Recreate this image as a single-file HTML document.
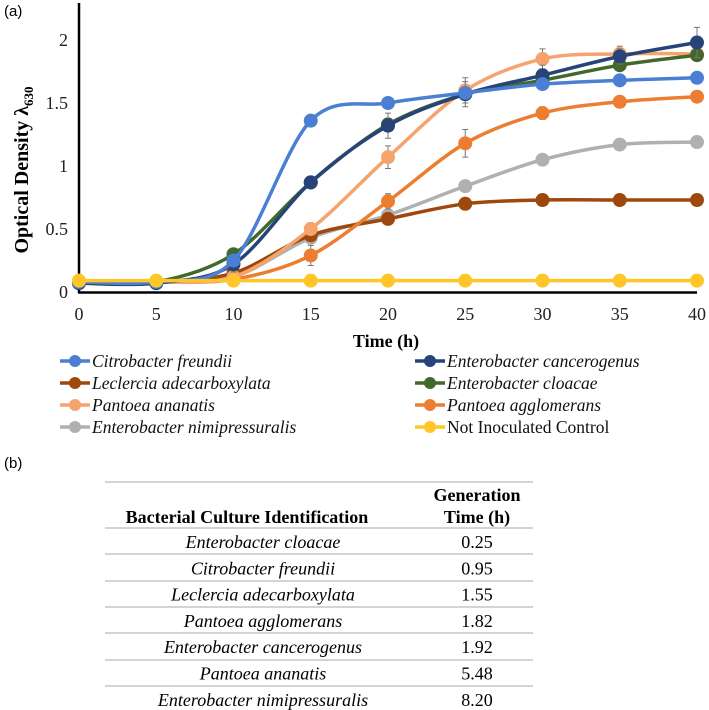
<!DOCTYPE html>
<html><head><meta charset="utf-8"><style>
body{margin:0;background:#fff;width:709px;height:710px;overflow:hidden;font-family:"Liberation Serif",serif;}
svg{position:absolute;left:0;top:0}
</style></head><body>
<svg id="chart" width="709" height="710"></svg>
<script>
const times=[0,5,10,15,20,25,30,35,40];
const seriesNames=["Citrobacter freundii","Enterobacter cancerogenus","Leclercia adecarboxylata","Enterobacter cloacae","Pantoea ananatis","Pantoea agglomerans","Enterobacter nimipressuralis","Not Inoculated Control"];
const seriesColors=["#4a7fd4","#264478","#9e480e","#43682b","#f4a46c","#ed7d31","#b0b0b0","#ffc62a"];
const citro=[0.08,0.08,0.25,1.36,1.50,1.58,1.65,1.68,1.70];
const canc=[0.07,0.07,0.22,0.87,1.32,1.57,1.72,1.87,1.98];
const lecl=[0.08,0.08,0.15,0.45,0.58,0.70,0.73,0.73,0.73];
const cloac=[0.08,0.08,0.30,0.87,1.33,1.57,1.68,1.80,1.88];
const anan=[0.08,0.08,0.12,0.50,1.07,1.60,1.85,1.89,1.89];
const agglo=[0.08,0.08,0.10,0.29,0.72,1.18,1.42,1.51,1.55];
const nimi=[0.08,0.08,0.12,0.43,0.61,0.84,1.05,1.17,1.19];
const ctrl=[0.09,0.09,0.09,0.09,0.09,0.09,0.09,0.09,0.09];
const errAnan=[0,0,0,0.05,0.09,0.1,0.08,0.06,0.05];
const errAgglo=[0,0,0,0.08,0.06,0.11,0.05,0.03,0.02];
const errCanc=[0,0,0.06,0.04,0.1,0.1,0.08,0.06,0.12];
const yTicks=[0,0.5,1,1.5,2];
const xTicks=[0,5,10,15,20,25,30,35,40];
const genNames=["Enterobacter cloacae","Citrobacter freundii","Leclercia adecarboxylata","Pantoea agglomerans","Enterobacter cancerogenus","Pantoea ananatis","Enterobacter nimipressuralis"];
const genTimes=["0.25","0.95","1.55","1.82","1.92","5.48","8.20"];
const allSeries=[citro,canc,lecl,cloac,anan,agglo,nimi,ctrl];
const drawOrder=[6,2,5,4,3,1,0,7];

const NS="http://www.w3.org/2000/svg";
const svg=document.getElementById('chart');
const X=t=>79+t*(697-79)/40;
const Y=v=>292-v*126;
function el(tag,attrs,parent){const e=document.createElementNS(NS,tag);for(const k in attrs)e.setAttribute(k,attrs[k]);(parent||svg).appendChild(e);return e;}
function txt(s,attrs,parent){const e=el('text',attrs,parent);e.textContent=s;return e;}
function smooth(pts){let d=`M${pts[0][0]},${pts[0][1]}`;for(let i=0;i<pts.length-1;i++){const p0=pts[i-1]||pts[i],p1=pts[i],p2=pts[i+1],p3=pts[i+2]||p2;const t=0.16;d+=` C${p1[0]+(p2[0]-p0[0])*t},${p1[1]+(p2[1]-p0[1])*t} ${p2[0]-(p3[0]-p1[0])*t},${p2[1]-(p3[1]-p1[1])*t} ${p2[0]},${p2[1]}`;}return d;}

let t=txt('(a)',{x:4,y:16,'font-family':'Liberation Sans, sans-serif','font-size':15});

t=txt('(b)',{x:4,y:468,'font-family':'Liberation Sans, sans-serif','font-size':15});


let a=el('line',{x1:79,y1:3,x2:79,y2:293,stroke:'#000','stroke-width':2.5});

a=el('line',{x1:78,y1:292.5,x2:697,y2:292.5,stroke:'#000','stroke-width':2.5});

yTicks.forEach(v=>{const e=txt(String(v),{x:68,y:Y(v)+6,'text-anchor':'end','font-size':18,fill:'#222'});
});
xTicks.forEach(v=>{const e=txt(String(v),{x:X(v),y:320,'text-anchor':'middle','font-size':18,fill:'#222'});
});
t=txt('Time (h)',{x:386,y:347,'text-anchor':'middle','font-size':18,'font-weight':'bold'});

t=el('text',{x:0,y:0,transform:'translate(28,170) rotate(-90)','text-anchor':'middle','font-size':20,'font-weight':'bold'});
t.innerHTML='Optical Density λ<tspan font-size="13" dy="5">630</tspan>';


const errs={4:errAnan,5:errAgglo,1:errCanc};
drawOrder.forEach(i=>{
  const vals=allSeries[i];const g=el('g',{});
  
  
  const pts=times.map((tt,j)=>[X(tt),Y(vals[j])]);
  if(errs[i]) times.forEach((tt,j)=>{const e=errs[i][j];if(!e)return;
    const eb=el('path',{d:`M${X(tt)},${Y(vals[j]+e)}V${Y(vals[j]-e)}M${X(tt)-3},${Y(vals[j]+e)}h6M${X(tt)-3},${Y(vals[j]-e)}h6`,stroke:'#777','stroke-width':1,fill:'none'},g);
    });
  const p=el('path',{d:smooth(pts),stroke:seriesColors[i],'stroke-width':3.5,fill:'none'},g);
  
  pts.forEach(q=>{const c=el('circle',{cx:q[0],cy:q[1],r:7,fill:seriesColors[i]},g);
    });
});

const legPos=[[60,361],[415,361],[60,383],[415,383],[60,405],[415,405],[60,427],[415,427]];
seriesNames.forEach((n,i)=>{const g=el('g',{});
  
  const [lx,ly]=legPos[i];
  el('line',{x1:lx,y1:ly,x2:lx+30,y2:ly,stroke:seriesColors[i],'stroke-width':3.5},g);
  el('circle',{cx:lx+15,cy:ly,r:6,fill:seriesColors[i]},g);
  txt(n,{x:lx+32,y:ly+6,'font-size':17.5,'font-style':i===7?'normal':'italic',fill:'#111'},g);
});

const tb=el('g',{});
[482,528,554,581,607,633,660,686].forEach(y=>{const l=el('line',{x1:105,x2:533,y1:y,y2:y,stroke:'#aaa','stroke-width':1},tb);
  });
t=txt('Bacterial Culture Identification',{x:247,y:523,'text-anchor':'middle','font-size':18,'font-weight':'bold'},tb);

t=txt('Generation',{x:477,y:501,'text-anchor':'middle','font-size':18,'font-weight':'bold'},tb);

t=txt('Time (h)',{x:477,y:523,'text-anchor':'middle','font-size':18,'font-weight':'bold'},tb);

genNames.forEach((n,i)=>{const y=548+i*26.3;
  let c=txt(n,{x:263,y:y,'text-anchor':'middle','font-size':18,'font-style':'italic'},tb);
  
  c=txt(genTimes[i],{x:477,y:y,'text-anchor':'middle','font-size':18},tb);
  
});
</script>
</body></html>
